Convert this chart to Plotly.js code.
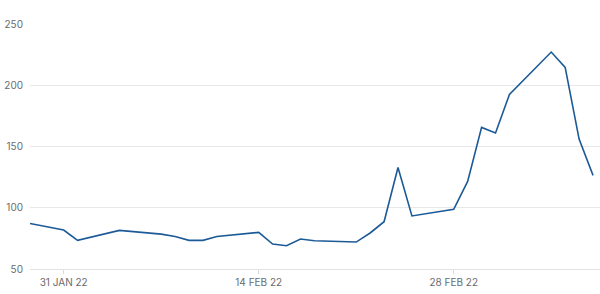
<!DOCTYPE html>
<html>
<head>
<meta charset="utf-8">
<script src="https://cdn.plot.ly/plotly-3.0.1.min.js"></script>
<style>html,body{margin:0;padding:0;background:#fff;}#chart{width:600px;height:294px;}</style>
</head>
<body>
<div id="chart"></div>
<script>
var dates = ['2022-01-28 14:00','2022-01-31','2022-02-01','2022-02-04','2022-02-07','2022-02-08','2022-02-09','2022-02-10','2022-02-11','2022-02-14','2022-02-15','2022-02-16','2022-02-17','2022-02-18','2022-02-21','2022-02-22','2022-02-23','2022-02-24','2022-02-25','2022-02-28','2022-03-01','2022-03-02','2022-03-03','2022-03-04','2022-03-07','2022-03-08','2022-03-09','2022-03-10'];
var values = [87.2,81.8,73.4,81.5,78.5,76.6,73.4,73.4,76.6,79.9,70.4,69.0,74.5,73.1,72.0,79.4,88.6,132.9,93.3,98.7,121.5,165.6,161.0,192.5,227.1,214.6,156.1,126.4];
var xTickVals = ['2022-01-31','2022-02-14','2022-02-28'];
var xTickText = ['31 JAN 22','14 FEB 22','28 FEB 22'];
var yTickVals = [50,100,150,200,250];

var trace = {
  x: dates, y: values, type: 'scatter', mode: 'lines',
  line: {color: '#1c5a97', width: 1.6},
  hoverinfo: 'none'
};
var layout = {
  width: 600, height: 294,
  margin: {l: 30, r: 0, t: 24, b: 25},
  paper_bgcolor: '#fff', plot_bgcolor: '#fff',
  showlegend: false,
  font: {family: 'Inter, "Open Sans", sans-serif', size: 10, color: '#6b6b6b'},
  xaxis: {
    type: 'date',
    range: ['2022-01-28 14:00', '2022-03-10 12:00'],
    tickvals: xTickVals, ticktext: xTickText,
    showgrid: false, zeroline: false,
    showline: true, linecolor: '#e3e3e3', linewidth: 1,
    ticks: 'outside', ticklen: 4, tickcolor: '#d9d9d9', tickwidth: 1,
    tickfont: {size: 10, color: '#6b6b6b'}
  },
  yaxis: {
    range: [50, 250],
    tickvals: yTickVals,
    showgrid: true, gridcolor: '#e8e8e8', gridwidth: 1,
    zeroline: false, showline: false, ticks: '',
    ticklabelstandoff: 6,
    tickfont: {size: 10, color: '#6b6b6b'}
  }
};
Plotly.newPlot('chart', [trace], layout, {displayModeBar: false, staticPlot: true});
</script>
</body>
</html>
